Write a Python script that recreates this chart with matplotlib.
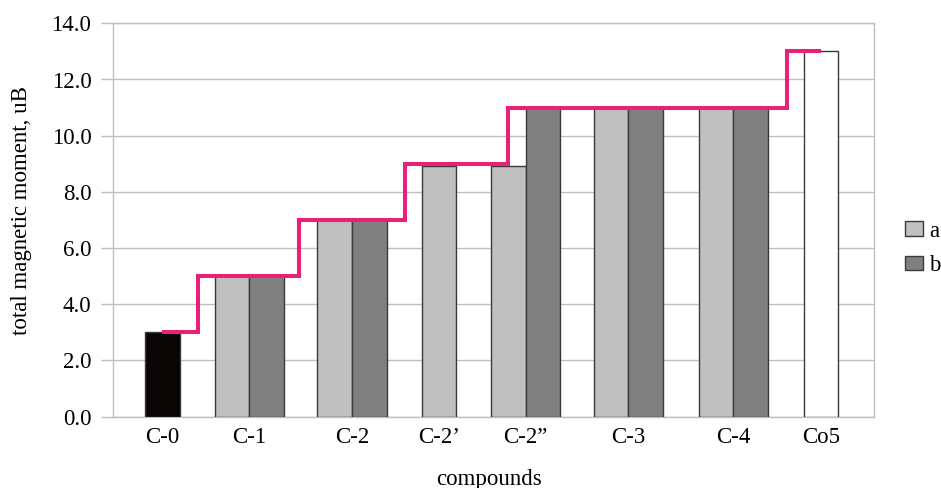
import numpy as np
import matplotlib
matplotlib.use("Agg")
import matplotlib.pyplot as plt
from matplotlib.patches import Patch
from matplotlib.ticker import FormatStrFormatter, MultipleLocator

# ---------------- data ----------------
categories = ["C-0", "C-1", "C-2", "C-2\u2019", "C-2\u201d", "C-3", "C-4", "Co5"]
series_a = [np.nan, 5.0, 7.0, 8.93, 8.93, 11.0, 11.0, np.nan]
series_b = [np.nan, 5.0, 7.0, np.nan, 11.0, 11.0, 11.0, np.nan]
reference = [3.0, np.nan, np.nan, np.nan, np.nan, np.nan, np.nan, 13.0]
expected = [3, 5, 7, 9, 11, 11, 11, 13]
legend_labels = ["a", "b"]
y_label = "total magnetic moment, uB"
x_label = "compounds"

# ---------------- layout (bar-width units) ----------------
cat_centers = [1.425, 3.939, 6.908, 9.419, 11.928, 14.893, 17.928, 20.457]
step_at = [2.457, 5.384, 8.439, 11.416, 19.48]
bar_w = 1.0
x_max = 21.994

col_a = "#C0C0C0"
col_b = "#808080"
ref_colors = ["#0A0505", None, None, None, None, None, None, "#FFFFFF"]
edge = "#3A3A3A"
pink = "#E8207A"
grid_col = "#BFBFBF"

plt.rcParams["font.family"] = ["Liberation Serif", "DejaVu Serif"]
plt.rcParams["font.size"] = 16.5

fig = plt.figure(figsize=(9.41, 4.88), dpi=100)
ax = fig.add_axes([113 / 941, 1 - 416.7 / 488, 761 / 941, 393.4 / 488])

for i, c in enumerate(cat_centers):
    present = []
    if not np.isnan(reference[i]):
        present.append(("r", reference[i], ref_colors[i]))
    if not np.isnan(series_a[i]):
        present.append(("a", series_a[i], col_a))
    if not np.isnan(series_b[i]):
        present.append(("b", series_b[i], col_b))
    n = len(present)
    for k, (_, v, col) in enumerate(present):
        x = c + (k - (n - 1) / 2) * bar_w
        ax.bar(x, v, width=bar_w, color=col, edgecolor=edge, linewidth=1.0, zorder=3)

# step line from expected values
levels = [expected[0]]
for v in expected[1:]:
    if v != levels[-1]:
        levels.append(v)
xs = [cat_centers[0]] + step_at + [cat_centers[-1]]
ys = levels + [levels[-1]]
ax.step(xs, ys, where="post", color=pink, linewidth=2.9, zorder=5,
        solid_joinstyle="miter", solid_capstyle="butt")

ax.set_xlim(0, x_max)
ax.set_ylim(0, 14)
ax.yaxis.set_major_locator(MultipleLocator(2))
ax.yaxis.set_major_formatter(FormatStrFormatter("%.1f"))
ax.set_xticks(cat_centers)
ax.set_xticklabels(categories)
ax.tick_params(axis="x", length=0, pad=7.5)
ax.tick_params(axis="y", length=8.6, width=1.0, color=grid_col, pad=7.0)
ax.grid(axis="y", color=grid_col, linewidth=1.0, zorder=0)
ax.set_axisbelow(True)
for s in ax.spines.values():
    s.set_color(grid_col)
    s.set_linewidth(1.0)

ax.set_ylabel(y_label)
ax.yaxis.set_label_coords(-0.1064, 0.524)
ax.set_xlabel(x_label)
ax.xaxis.set_label_coords(0.4937, -0.132)

handles = [Patch(facecolor=col_a, edgecolor=edge, linewidth=1.0),
           Patch(facecolor=col_b, edgecolor=edge, linewidth=1.0)]
fig.legend(handles, legend_labels, loc="center left",
           bbox_to_anchor=(905 / 941, 1 - 248.5 / 488),
           frameon=False, borderpad=0, borderaxespad=0,
           handlelength=0.8, handleheight=0.61, handletextpad=0.25,
           labelspacing=0.58)

fig.savefig("out.png", dpi=100, facecolor="white")
